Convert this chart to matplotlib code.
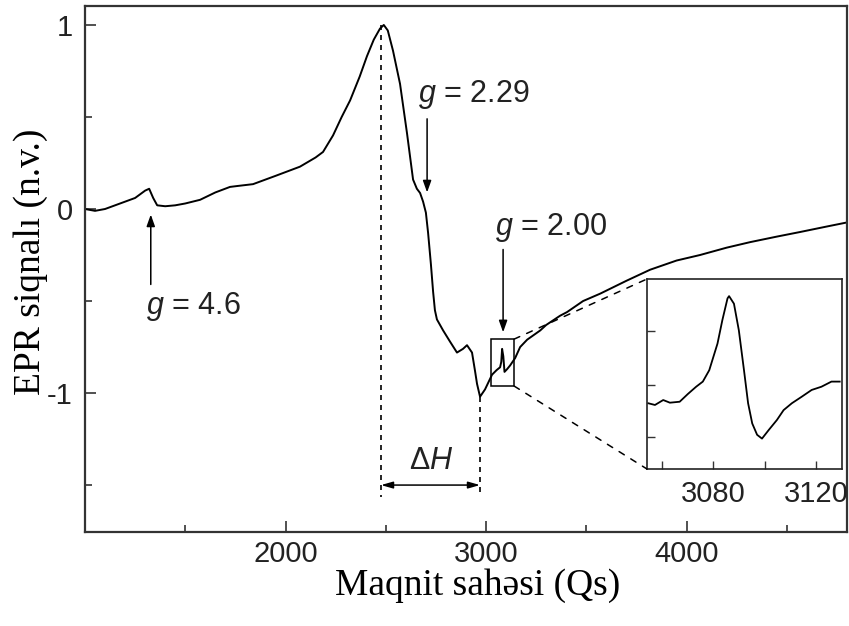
import matplotlib
matplotlib.use("Agg")
import matplotlib.pyplot as plt
from matplotlib.patches import Rectangle, ConnectionPatch
from matplotlib.ticker import MultipleLocator

plt.rcParams['axes.unicode_minus'] = False
plt.rcParams['font.family'] = ['Liberation Sans', 'DejaVu Sans']
plt.rcParams['mathtext.fontset'] = 'custom'
plt.rcParams['mathtext.rm'] = 'Liberation Sans'
plt.rcParams['mathtext.it'] = 'Liberation Sans:italic'

# ---- main EPR spectrum (field in Oe, normalized signal) ----
field = [1000, 1050, 1100, 1150, 1200, 1250, 1300, 1320, 1340, 1360, 1400, 1450,
         1500, 1574, 1650, 1723, 1760, 1838, 1950, 2072, 2150, 2187, 2237, 2280,
         2322, 2370, 2406, 2440, 2471, 2490, 2510, 2536, 2571, 2606, 2636, 2655,
         2671, 2686, 2700, 2711, 2725, 2736, 2745, 2755, 2786, 2820, 2855, 2885,
         2905, 2930, 2945, 2955, 2970, 2995, 3030, 3053, 3070, 3076, 3080, 3086,
         3092, 3105, 3120, 3145, 3170, 3205, 3270, 3300, 3369, 3404, 3484, 3569,
         3700, 3818, 3950, 4067, 4200, 4317, 4450, 4566, 4700, 4791]
signal = [0.00, -0.01, 0.00, 0.02, 0.04, 0.06, 0.10, 0.11, 0.06, 0.02, 0.015, 0.02,
          0.03, 0.05, 0.09, 0.12, 0.125, 0.135, 0.18, 0.23, 0.28, 0.31, 0.40, 0.50,
          0.59, 0.72, 0.83, 0.92, 0.98, 1.00, 0.97, 0.86, 0.68, 0.41, 0.16, 0.11,
          0.087, 0.04, -0.02, -0.13, -0.30, -0.45, -0.55, -0.60, -0.66, -0.72, -0.78, -0.76,
          -0.74, -0.78, -0.88, -0.95, -1.02, -0.98, -0.90, -0.875, -0.86, -0.83, -0.76, -0.80,
          -0.885, -0.87, -0.85, -0.81, -0.75, -0.71, -0.66, -0.63, -0.58, -0.56, -0.50, -0.46,
          -0.39, -0.33, -0.28, -0.25, -0.21, -0.18, -0.15, -0.125, -0.095, -0.075]

# ---- inset: g = 2.00 line (arbitrary units) ----
inset_field = [3054.7, 3057.3, 3060.5, 3063.1, 3066.9, 3070.1, 3073.3, 3075.9, 3078.4,
               3079.7, 3081.6, 3083.5, 3085.5, 3086.1, 3088.0, 3089.9, 3091.9, 3093.5,
               3095.1, 3097.0, 3098.9, 3101.5, 3104.7, 3107.3, 3110.5, 3114.3, 3118.2,
               3122.0, 3125.9, 3129.1]
inset_signal = [0.346, 0.337, 0.363, 0.349, 0.354, 0.395, 0.433, 0.46, 0.52,
                0.577, 0.66, 0.784, 0.898, 0.91, 0.87, 0.73, 0.52, 0.346,
                0.24, 0.18, 0.16, 0.205, 0.258, 0.31, 0.346, 0.38, 0.416,
                0.433, 0.46, 0.46]

x_ticks = [2000, 3000, 4000]
y_ticks = [-1, 0, 1]
inset_ticks = [3080, 3120]

W, H = 849, 626
fig = plt.figure(figsize=(W / 100, H / 100), dpi=100)
L, R, T, B = 85, 847, 6, 532
ax = fig.add_axes([L / W, 1 - B / H, (R - L) / W, (B - T) / H])

dark = '#222222'
ax.plot(field, signal, color='black', lw=1.4)
ax.set_xlim(1000, 4800)
ax.set_ylim(-1.755, 1.103)
ax.set_xticks(x_ticks)
ax.set_yticks(y_ticks)
ax.xaxis.set_minor_locator(MultipleLocator(500))
ax.yaxis.set_minor_locator(MultipleLocator(0.5))
ax.tick_params(which='both', direction='in', colors='#333333', labelcolor=dark,
               labelsize=21, width=1.2)
ax.tick_params(which='major', length=8)
ax.tick_params(which='minor', length=5)
ax.tick_params(axis='x', pad=6)
ax.tick_params(axis='y', pad=9)
for s in ax.spines.values():
    s.set_linewidth(1.6)
    s.set_color('#333333')

serif = ['Liberation Serif', 'DejaVu Serif']
fig.text(478 / W, 1 - 586 / H, 'Maqnit sahəsi (Qs)', family=serif, fontsize=27,
         ha='center', va='center', color='black')
fig.text(31 / W, 1 - 262 / H, 'EPR siqnalı (n.v.)', family=serif, fontsize=27,
         ha='center', va='center', rotation=90, color='black')

ann_fs = 22
arrow_kw = dict(arrowstyle='-|>,head_length=0.7,head_width=0.25', color='black', lw=1.1,
                shrinkA=0, shrinkB=0)
# g = 4.6
ax.annotate('', xy=(1328, -0.03), xytext=(1328, -0.41), arrowprops=arrow_kw)
ax.text(1540, -0.53, '$g$ = 4.6', fontsize=ann_fs, ha='center', va='center', color=dark)
# g = 2.29
ax.annotate('', xy=(2706, 0.09), xytext=(2706, 0.49), arrowprops=arrow_kw)
ax.text(2661, 0.62, '$g$ = 2.29', fontsize=ann_fs, ha='left', va='center', color=dark)
# g = 2.00
ax.annotate('', xy=(3085, -0.67), xytext=(3085, -0.22), arrowprops=arrow_kw)
ax.text(3045, -0.10, '$g$ = 2.00', fontsize=ann_fs, ha='left', va='center', color=dark)

# Delta H construction
ax.plot([2476, 2476], [1.0, -1.565], color='black', lw=1.2, ls=(0, (3, 3)))
ax.plot([2970, 2970], [-1.02, -1.565], color='black', lw=1.2, ls=(0, (3, 3)))
ax.annotate('', xy=(2476, -1.50), xytext=(2970, -1.50),
            arrowprops=dict(arrowstyle='<|-|>,head_length=0.7,head_width=0.2',
                            color='black', lw=1.1, shrinkA=0, shrinkB=0))
ax.text(2725, -1.37, r'$\Delta H$', fontsize=ann_fs, ha='center', va='center', color=dark)

# marker box
bx0, bx1, by0, by1 = 3025, 3140, -0.962, -0.707
ax.add_patch(Rectangle((bx0, by0), bx1 - bx0, by1 - by0, fill=False, ec='black', lw=1.1))

# inset
IL, IR, IT, IB = 647, 842, 279, 469
axi = fig.add_axes([IL / W, 1 - IB / H, (IR - IL) / W, (IB - IT) / H])
axi.plot(inset_field, inset_signal, color='black', lw=1.3)
axi.set_xlim(3054.2, 3130)
axi.set_ylim(0.0, 1.0)
axi.set_xticks(inset_ticks)
axi.xaxis.set_minor_locator(MultipleLocator(20))
axi.set_yticks([0.168, 0.442, 0.726])
axi.set_yticklabels([])
axi.tick_params(which='both', direction='in', length=6, width=1.0, colors='#333333',
                labelcolor=dark, labelsize=21, pad=8)
for s in axi.spines.values():
    s.set_linewidth(1.2)
    s.set_color('#222222')

for (xa, ya), (xb, yb) in [((bx1, by1), (0, 1)), ((bx1, by0), (0, 0))]:
    cp = ConnectionPatch(xyA=(xa, ya), coordsA=ax.transData,
                         xyB=(xb, yb), coordsB=axi.transAxes,
                         color='black', lw=1.1, ls=(0, (4, 5)))
    fig.add_artist(cp)

fig.savefig('out.png', dpi=100)
